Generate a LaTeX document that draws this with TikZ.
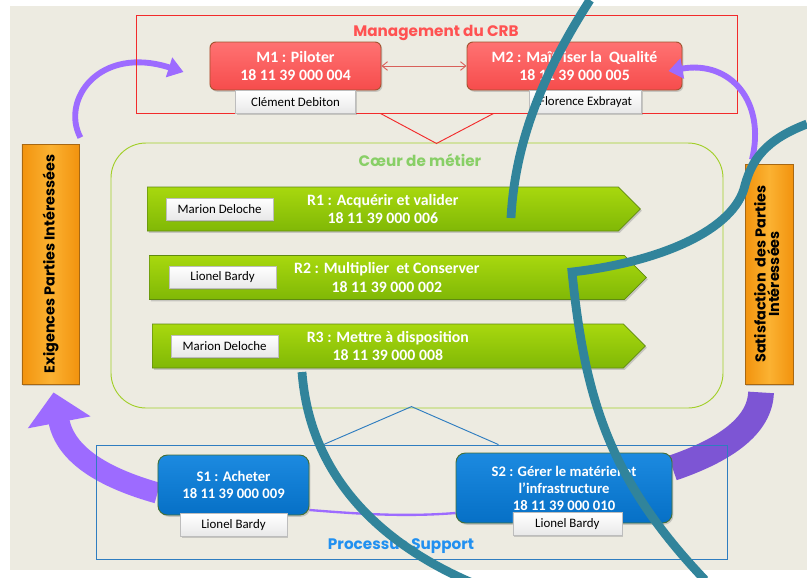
\documentclass[tikz,border=0pt]{standalone}
\usepackage{fontspec}
\setmainfont{Carlito}
\newfontfamily\gothfont{Poppins}
\usetikzlibrary{arrows.meta, positioning, calc, shapes.symbols, shadows, backgrounds}
\definecolor{pageFl}{HTML}{EDEBE1}
\definecolor{mgmtBd}{HTML}{F22B2B}
\definecolor{mgmtTx}{HTML}{FF5252}
\definecolor{mTop}{HTML}{FF7272}
\definecolor{mFl}{HTML}{F64C4C}
\definecolor{mBd}{HTML}{A2522E}
\definecolor{mArr}{HTML}{D8605A}
\definecolor{coeurBd}{HTML}{A3CF2A}
\definecolor{coeurTx}{HTML}{88CF66}
\definecolor{rTop}{HTML}{A8D80E}
\definecolor{rFl}{HTML}{80B806}
\definecolor{rBd}{HTML}{5F8A10}
\definecolor{supBd}{HTML}{2F7DC0}
\definecolor{supTx}{HTML}{2190F0}
\definecolor{sTop}{HTML}{1C8AE0}
\definecolor{sFl}{HTML}{0670C6}
\definecolor{sBd}{HTML}{43703A}
\definecolor{oTop}{HTML}{FBB232}
\definecolor{oFl}{HTML}{F2930E}
\definecolor{oBd}{HTML}{A86812}
\definecolor{tagBd}{HTML}{BDBDBD}
\definecolor{lilaLt}{HTML}{9D6BFF}
\definecolor{lilaDk}{HTML}{7D55D4}
\definecolor{scribLn}{HTML}{31849B}
\newcommand{\bxfont}{\fontsize{13.5}{16}\selectfont\bfseries}
\newcommand{\ttlfont}{\gothfont\fontsize{13}{15}\selectfont\bfseries}

\begin{document}
\begin{tikzpicture}[
  x=0.03cm, y=-0.03cm,
  >={Straight Barb[length=1.6mm, width=2.6mm]},
  shd/.style={drop shadow={opacity=0.35, shadow xshift=1.2pt, shadow yshift=-1.5pt}},
  frame/.style={draw, line width=0.8pt, inner sep=0pt},
  ttl/.style={font=\ttlfont, inner sep=1pt},
  mbox/.style={rounded corners=5pt, draw=mBd, line width=0.8pt,
               top color=mTop, bottom color=mFl, text=white,
               font=\bxfont, align=center, minimum height=1.44cm, shd},
  sbox/.style={rounded corners=8pt, draw=sBd, line width=0.8pt,
               top color=sTop, bottom color=sFl, text=white,
               font=\fontsize{12.5}{14.5}\selectfont\bfseries, align=center, shd},
  rband/.style={signal, signal to=east, signal pointer angle=90,
                draw=rBd, line width=0.6pt, top color=rTop, bottom color=rFl,
                text=white, font=\bxfont, align=center,
                minimum height=1.32cm, anchor=west, shd},
  tag/.style={draw=tagBd, line width=0.4pt, top color=white, bottom color=black!9,
              font=\fontsize{11}{12}\selectfont, minimum height=0.68cm,
              inner sep=1pt, shd},
  obox/.style={draw=oBd, line width=0.7pt, left color=oFl, right color=oFl,
               middle color=oTop, font=\gothfont\fontsize{12.3}{14.5}\selectfont\bfseries,
               inner sep=0pt, shd},
  lila/.style={draw=lilaLt, line width=#1},
  scrib/.style={draw=scribLn, line width=7.5pt},
]
\useasboundingbox (0,0) rectangle (807,577);
\clip (0,0) rectangle (807,577);
\begin{scope}[on background layer]
  \fill[pageFl] (10,6) rectangle (807,570);
\end{scope}

% ---------- frames ----------
\node[frame, draw=mgmtBd, minimum width=18.03cm, minimum height=2.94cm] (mgmt) at (436.5,64) {};
\node[frame, draw=coeurBd, rounded corners=30pt, minimum width=18.36cm, minimum height=7.95cm] (coeur) at (417,275.5) {};
\node[frame, draw=supBd, line width=0.7pt, minimum width=18.93cm, minimum height=3.42cm] (sup) at (411.5,502) {};

\node[ttl, text=mgmtTx] (mgmtT) at (436,33) {Management du CRB};
\node[ttl, text=coeurTx] (coeurT) at (420,160) {Cœur de métier};
\node[ttl, text=supTx] (supT) at (401,546) {Processus Support};

\draw[mgmtBd, line width=0.8pt] ($(mgmt.south)+(-56,0)$) -- ($(mgmt.south)+(0,30)$) -- ($(mgmt.south)+(57,0)$);
\draw[supBd, line width=0.8pt] ($(sup.north)+(-88,0)$) -- ($(sup.north)+(0,-38)$) -- ($(sup.north)+(87,0)$);

% ---------- management ----------
\node[mbox, minimum width=5.13cm] (m1) at (295.5,66) {M1 : Piloter\\18 11 39 000 004};
\node[mbox, minimum width=6.45cm] (m2) at (574.5,66) {M2 : Maîtriser la~ Qualité\\18 11 39 000 005};
\node[tag, minimum width=3.6cm, below=0pt of m1] (tm1) {Clément Debiton};
\node[tag, minimum width=3.36cm, below=0pt of m2, xshift=0.33cm] (tm2) {Florence Exbrayat};
\draw[<->, draw=mArr, line width=0.8pt] (m1) -- (m2);

% ---------- coeur de metier ----------
\node[rband, minimum width=14.79cm] (r1) at (147,209) {R1 : Acquérir et valider\\18 11 39 000 006};
\node[rband, minimum width=14.91cm] (r2) at (149,277.5) {R2 : Multiplier~ et Conserver\\18 11 39 000 002};
\node[rband, minimum width=14.79cm] (r3) at (152,346) {R3 : Mettre à disposition\\18 11 39 000 008};
\node[tag, minimum width=3.2cm, minimum height=0.66cm, right=0.57cm of r1.west] (tr1) {Marion Deloche};
\node[tag, minimum width=3.2cm, minimum height=0.66cm, right=0.6cm of r2.west] (tr2) {Lionel Bardy};
\node[tag, minimum width=3.2cm, minimum height=0.66cm, right=0.57cm of r3.west] (tr3) {Marion Deloche};

% ---------- support ----------
\node[sbox, minimum width=4.53cm, minimum height=1.8cm] (s1) at (233.5,485) {S1 : Acheter\\18 11 39 000 009};
\node[sbox, minimum width=6.48cm, minimum height=2.1cm] (s2) at (564,488) {S2 : Gérer le matériel et\\l'infrastructure\\18 11 39 000 010};
\node[tag, minimum width=3.2cm, below=-0.06cm of s1] (ts1) {Lionel Bardy};
\node[tag, minimum width=3.27cm, below=-0.33cm of s2, xshift=0.1cm] (ts2) {Lionel Bardy};

% ---------- parties interessees ----------
\node[obox, minimum width=1.71cm, minimum height=7.2cm] (exig) at (50.5,264)
  {\rotatebox{90}{Exigences Parties Intéressées}};
\node[obox, minimum width=1.44cm, minimum height=6.6cm] (satisf) at (769,274)
  {\rotatebox{90}{\begin{tabular}{@{}c@{}}Satisfaction~ des Parties\\[-3pt] Intéressées\end{tabular}}};

% ---------- cycle arrows ----------
\begin{scope}[on background layer]
  \draw[lila=5pt, -{Triangle[length=13pt, width=17pt]}]
    ($(exig.north east)+(1,-6)$) .. controls +(-20,-38) and +(-84,-27) .. ($(m1.west)+(-26,6)$);
  \draw[lila=18pt, -{Triangle[length=26pt, width=53pt]}]
    ($(s1.west)+(0,8)$) .. controls +(-53,-15) and +(12,63) .. ($(exig.south)+(3,8)$);
  \draw[lila=22pt, draw=lilaDk]
    ($(s2.east)+(0,-20)$) .. controls +(53,-18) and +(-1,33) .. ($(satisf.south)+(-8,8)$);
  \draw[lila=2pt]
    ($(s1.east)+(0,25)$) .. controls +(50,4) and +(-50,4) .. ($(s2.west)+(0,25)$);
\end{scope}
\draw[lila=5pt, -{Triangle[length=12pt, width=17pt]}]
  ($(satisf.north)+(-17,-4)$) .. controls +(14,-58) and +(62,-11) .. ($(m2.east)+(-14,5)$);

% ---------- overdrawn strokes ----------
\draw[scrib] (511,218) .. controls (515,140) and (545,70) .. (590,0);
\draw[scrib] (807,124) .. controls (765,140) and (752,160) .. (745,185)
  .. controls (735,230) and (660,262) .. (572,272)
  .. controls (585,400) and (610,480) .. (705,580);
\draw[scrib] (302,372) .. controls (310,480) and (385,545) .. (470,582);

\end{tikzpicture}
\end{document}
